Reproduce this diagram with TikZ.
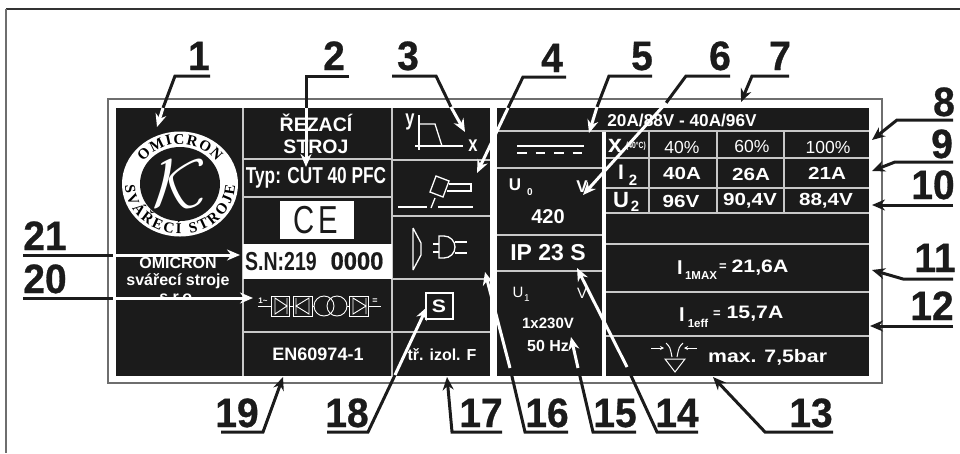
\documentclass[tikz,border=0pt]{standalone}
\usepackage{fontspec}
\usepackage{graphicx}
\setmainfont{Liberation Sans}
\newfontfamily\widefont[FakeStretch=1.18]{Liberation Sans}
\newfontfamily\narrowfont[FakeStretch=0.75]{Liberation Sans}
\newfontfamily\calloutfont[FakeStretch=0.95,FakeBold=0.7]{Liberation Sans}
\newfontfamily\logofont{Liberation Serif}
\usetikzlibrary{arrows.meta,decorations.text}
\definecolor{platedark}{HTML}{1B1B1B}
\definecolor{gridgray}{HTML}{C8C8C8}
\definecolor{framegray}{HTML}{6E6E6E}
\newcommand{\platesize}[1]{\fontsize{#1}{#1}\selectfont}

\begin{document}
\begin{tikzpicture}[x=1pt, y=1pt,
  numlabel/.style={font=\calloutfont\bfseries\platesize{41}, text=platedark, inner sep=0pt, anchor=base},
  leader/.style={draw=platedark, line width=3pt},
  leadertip/.style={leader, -{Stealth[length=13pt,width=11pt]}},
  inleader/.style={draw=white, line width=3pt, -{Stealth[length=13pt,width=11pt]}},
  cellline/.style={draw=gridgray, line width=1.2pt},
  platetext/.style={text=white, inner sep=0pt, font=\bfseries\platesize{#1}},
  widetext/.style={text=white, inner sep=0pt, font=\widefont\bfseries\platesize{#1}},
  symline/.style={draw=white, line width=1.3pt}]
  \useasboundingbox (0,-453) rectangle (960,0);

  % outer frame and plate
  \draw[draw=black!80, line width=1.2pt] (960,-9) -- (6,-9);
  \draw[draw=framegray, line width=1.3pt] (6,-9) -- (6,-453);
  \draw[draw=framegray, line width=1.3pt] (108,-99) rectangle (882,-383);
  \fill[platedark] (116,-108) rectangle (490,-376);
  \fill[platedark] (497,-108) rectangle (869,-131);
  \fill[platedark] (497,-131) rectangle (602,-376);
  \fill[platedark] (606,-131) rectangle (869,-376);

  % cell lines, left block
  \draw[cellline] (243,-108) -- (243,-376);
  \draw[cellline] (392,-108) -- (392,-376);
  \draw[cellline] (243,-159) -- (392,-159);
  \draw[cellline] (243,-197) -- (392,-197);
  \draw[cellline] (243,-332) -- (490,-332);
  \draw[cellline] (392,-160) -- (490,-160);
  \draw[cellline] (392,-216) -- (490,-216);
  \draw[cellline] (392,-279) -- (490,-279);
  \fill[white] (243,-244) rectangle (392,-279);
  \fill[white] (280,-201) rectangle (354,-239);

  % cell lines, middle and right block
  \draw[cellline] (497,-131) -- (869,-131);
  \draw[cellline] (497,-168) -- (602,-168);
  \draw[cellline] (497,-235) -- (602,-235);
  \draw[cellline] (497,-271) -- (602,-271);
  \draw[cellline] (606,-158) -- (869,-158);
  \draw[cellline] (606,-188) -- (869,-188);
  \draw[cellline] (606,-213) -- (869,-213);
  \draw[cellline] (606,-244) -- (869,-244);
  \draw[cellline] (606,-292) -- (869,-292);
  \draw[cellline] (606,-336) -- (869,-336);
  \draw[cellline] (649,-131) -- (649,-213);
  \draw[cellline] (717,-131) -- (717,-213);
  \draw[cellline] (784,-131) -- (784,-213);

  % logo
  \fill[white] (180,-184) circle [x radius=58pt, y radius=52.5pt];
  \fill[platedark] (180,-184) circle [x radius=40pt, y radius=37pt];
  \node[text=white, inner sep=0pt] (logok) at (180,-184) {\resizebox{54pt}{47pt}{$\mathcal{K}$}};
  \path[decorate, decoration={text along path, text align={fit to path},
      text={|\logofont\bfseries\platesize{15}|OMICRON}}]
    (180,-184) ++(146:44pt and 40pt) arc [start angle=146, end angle=34, x radius=44pt, y radius=40pt];
  \path[decorate, decoration={text along path, text align={fit to path},
      text={|\logofont\bfseries\platesize{15}|SVÁŘECÍ STROJE}}]
    (180,-184) ++(182:55pt and 50pt) arc [start angle=182, end angle=358, x radius=55pt, y radius=50pt];

  \node[platetext=16, align=center, font=\bfseries\fontsize{16}{17}\selectfont] (firm) at (178,-280) {OMICRON\\svářecí stroje\\s.r.o.};
  \fill[platedark] (117,-299) rectangle (242,-375);

  % left block texts
  \node[platetext=20, align=center, font=\bfseries\fontsize{19.5}{22}\selectfont] (kind) at (316,-134) {ŘEZACÍ\\STROJ};
  \node[text=white, inner sep=0pt, font=\narrowfont\bfseries\platesize{23}] (typ) at (316,-178) {Typ: CUT 40 PFC};
  \node[text=platedark, inner sep=0pt, font=\narrowfont\platesize{39}] (ce) at (316,-220) {C\kern4pt E};
  \node[text=platedark, inner sep=0pt, font=\narrowfont\bfseries\platesize{26}] (sn) at (281,-262) {S.N:219};
  \node[text=platedark, inner sep=0pt, font=\calloutfont\bfseries\platesize{25}] (snno) at (357,-261) {0000};
  \node[platetext=18] (norm) at (318,-354) {EN60974-1};
  \node[platetext=16] (izol) at (442,-355) {tř. izol. F};
  \node[text=white, inner sep=0pt, font=\narrowfont\bfseries\platesize{22}] (yaxis) at (410,-122) {y};
  \node[text=white, inner sep=0pt, font=\narrowfont\bfseries\platesize{22}] (xaxis) at (473,-146) {x};

  % rectifier symbol
  \node[text=white, inner sep=0pt, font=\bfseries\platesize{8}] (phase) at (263,-301) {1\textasciitilde};
  \node[text=white, inner sep=0pt, font=\bfseries\platesize{9}] (dc) at (375,-301) {=};
  \draw[symline, line width=.9pt] (258,-306) -- (271,-306) (289,-306) -- (293,-306) (312,-306) -- (314,-306)
    (347,-306) -- (349,-306) (368,-306) -- (381,-306);
  \draw[symline, line width=.9pt] (271,-296) rectangle (289,-316);
  \draw[symline, line width=.9pt] (275,-298) -- (275,-314) -- (287,-306) -- cycle (287,-298) -- (287,-314);
  \draw[symline, line width=.9pt] (293,-296) rectangle (312,-316);
  \draw[symline, line width=.9pt] (309,-298) -- (309,-314) -- (296,-306) -- cycle (296,-298) -- (296,-314);
  \draw[symline, line width=.9pt] (324,-306) circle (10pt) (337,-306) circle (10pt);
  \draw[symline, line width=.9pt] (349,-296) rectangle (368,-316);
  \draw[symline, line width=.9pt] (353,-298) -- (353,-314) -- (366,-306) -- cycle (366,-298) -- (366,-314);

  % characteristic, torch, plug
  \draw[symline, line width=1.6pt] (419,-115) -- (419,-150) (415,-146) -- (463,-146);
  \draw[symline] (419,-124) -- (435,-124) -- (442,-146);
  \draw[symline] (398,-207) -- (427,-207) (438,-207) -- (473,-207);
  \draw[symline] (436,-176) -- (449,-181) -- (443,-197) -- (430,-192) -- cycle;
  \draw[symline] (449,-184) -- (471,-184) -- (471,-191) -- (447,-191);
  \draw[symline] (431,-208) -- (435,-198);
  \draw[symline] (413,-228) -- (413,-270) (413,-228) -- (421,-243) -- (421,-255) -- (413,-270);
  \draw[symline] (433,-244) -- (439,-244) (433,-252) -- (439,-252);
  \draw[symline] (439,-236) -- (439,-258) -- (444,-258) arc [start angle=-90, end angle=90, radius=11pt] -- cycle;
  \draw[symline] (455,-242) -- (467,-242) (455,-253) -- (467,-253);
  \draw[draw=white, line width=1.8pt] (426,-293) rectangle (453,-319);
  \node[widetext=18] (sbox) at (439,-306) {S};

  % middle block
  \node[platetext=17.2] (rating) at (682,-120) {20A/88V - 40A/96V};
  \draw[draw=white, line width=2.3pt] (517,-146) -- (584,-146);
  \draw[draw=white, line width=2.3pt, dash pattern=on 9.5pt off 9pt] (517,-153) -- (584,-153);
  \node[platetext=17] (uzero) at (515,-185) {U};
  \node[platetext=10] (uzerosub) at (530,-192) {0};
  \node[platetext=17] (uzerov) at (582,-187) {V};
  \node[platetext=20] (uzeroval) at (548,-217) {420};
  \node[platetext=23] (ip) at (548,-253) {IP 23 S};
  \node[text=white, inner sep=0pt, font=\platesize{15}] (uone) at (518,-292) {U};
  \node[text=white, inner sep=0pt, font=\platesize{10}] (uonesub) at (527,-298) {1};
  \node[text=white, inner sep=0pt, font=\platesize{15}] (uonev) at (582,-293) {V};
  \node[platetext=15] (mains) at (548,-323) {1x230V};
  \node[platetext=16] (freq) at (548,-346) {50 Hz};

  % table
  \node[text=white, inner sep=0pt, font=\bfseries\platesize{25}] (xhead) at (615,-146) {x};
  \node[text=white, inner sep=0pt, font=\narrowfont\bfseries\platesize{9}] (xtemp) at (636,-146) {(40°C)};
  \node[text=white, inner sep=0pt, font=\platesize{17.5}] (xa) at (682,-147) {40\%};
  \node[text=white, inner sep=0pt, font=\platesize{17.5}] (xb) at (752,-146) {60\%};
  \node[text=white, inner sep=0pt, font=\platesize{17.5}] (xc) at (828,-147) {100\%};
  \node[platetext=21] (itwo) at (621,-172) {I};
  \node[platetext=15] (itwosub) at (633,-180) {2};
  \node[widetext=17.5] (ia) at (682,-173) {40A};
  \node[widetext=17.5] (ib) at (751,-174) {26A};
  \node[widetext=17.5] (ic) at (827,-173) {21A};
  \node[platetext=22] (utwo) at (621,-200) {U};
  \node[platetext=15] (utwosub) at (635,-206) {2};
  \node[widetext=17.5] (ua) at (681,-201) {96V};
  \node[widetext=17.5] (ub) at (750,-201) {90,4V};
  \node[widetext=17.5] (uc) at (826,-201) {88,4V};

  % currents and pressure
  \node[platetext=20] (imax) at (680,-268) {I};
  \node[platetext=11.5] (imaxsub) at (701,-276) {1MAX};
  \node[platetext=13] (imaxeq) at (723,-267) {=};
  \node[widetext=18] (imaxval) at (760,-268) {21,6A};
  \node[platetext=20] (ieff) at (682,-315) {I};
  \node[platetext=11.5] (ieffsub) at (698,-323) {1eff};
  \node[platetext=13] (ieffeq) at (717,-314) {=};
  \node[widetext=18] (ieffval) at (755,-314) {15,7A};
  \node[widetext=18, anchor=west] (pressure) at (708,-357) {max. 7,5bar};
  \draw[symline, line width=1pt] (665,-359) -- (685,-359) -- (675,-372) -- cycle;
  \draw[symline, line width=1pt] (666,-343) .. controls (670,-347) .. (672,-357);
  \draw[symline, line width=1pt] (683,-343) .. controls (679,-347) .. (677,-357);
  \draw[symline, line width=1pt, -{Stealth[length=4pt,width=4pt]}] (651,-348) -- (664,-348);
  \draw[symline, line width=1pt, -{Stealth[length=4pt,width=4pt]}] (697,-348) -- (684,-348);

  % callout numbers
  \node[numlabel] (n1) at (199,-70) {1};
  \node[numlabel] (n2) at (334,-70) {2};
  \node[numlabel] (n3) at (408,-70) {3};
  \node[numlabel] (n4) at (552,-72) {4};
  \node[numlabel] (n5) at (642,-70) {5};
  \node[numlabel] (n6) at (720,-70) {6};
  \node[numlabel] (n7) at (780,-70) {7};
  \node[numlabel] (n8) at (944,-116) {8};
  \node[numlabel] (n9) at (942,-158) {9};
  \node[numlabel] (n10) at (933,-199) {10};
  \node[numlabel] (n11) at (935,-272) {11};
  \node[numlabel] (n12) at (932,-320) {12};
  \node[numlabel] (n13) at (811,-427) {13};
  \node[numlabel] (n14) at (677,-427) {14};
  \node[numlabel] (n15) at (615,-427) {15};
  \node[numlabel] (n16) at (547,-427) {16};
  \node[numlabel] (n17) at (481,-427) {17};
  \node[numlabel] (n18) at (347,-427) {18};
  \node[numlabel] (n19) at (237,-427) {19};
  \node[numlabel] (n20) at (45,-293) {20};
  \node[numlabel] (n21) at (45,-250) {21};

  % leaders from above
  \path (210,-76) coordinate (u1) (175,-76) coordinate (e1) (163,-108) coordinate (c1) (157,-127) coordinate (t1);
  \draw[leader] (u1) -- (e1) -- (c1);
  \draw[inleader] (c1) -- (t1);
  \path (349,-76) coordinate (u2) (306,-76) coordinate (e2) (306,-108) coordinate (c2) (306,-167) coordinate (t2);
  \draw[leader] (u2) -- (e2) -- (c2);
  \draw[inleader] (c2) -- (t2);
  \path (392,-76) coordinate (u3) (436,-76) coordinate (e3) (451,-107) coordinate (c3) (465,-132) coordinate (t3);
  \draw[leader] (u3) -- (e3) -- (c3);
  \draw[inleader] (c3) -- (t3);
  \path (566,-77) coordinate (u4) (523,-77) coordinate (e4) (508,-108) coordinate (c4) (477,-173) coordinate (t4);
  \draw[leader] (u4) -- (e4) -- (c4);
  \draw[inleader] (c4) -- (t4);
  \path (652,-76) coordinate (u5) (609,-76) coordinate (e5) (597,-107) coordinate (c5) (589,-133) coordinate (t5);
  \draw[leader] (u5) -- (e5) -- (c5);
  \draw[inleader] (c5) -- (t5);
  \path (730,-76) coordinate (u6) (686,-76) coordinate (e6) (666,-103) coordinate (c6) (583,-195) coordinate (t6);
  \draw[leader] (u6) -- (e6) -- (c6);
  \draw[inleader] (c6) -- (t6);
  \path (789,-76) coordinate (u7) (752,-76) coordinate (e7) (741,-102) coordinate (t7);
  \draw[leadertip] (u7) -- (e7) -- (t7);

  % leaders from the right
  \path (953,-120) coordinate (u8) (897,-120) coordinate (e8) (872,-140) coordinate (t8);
  \draw[leadertip] (u8) -- (e8) -- (t8);
  \path (953,-162) coordinate (u9) (895,-162) coordinate (e9) (872,-171) coordinate (t9);
  \draw[leadertip] (u9) -- (e9) -- (t9);
  \path (953,-205) coordinate (u10) (872,-205) coordinate (t10);
  \draw[leadertip] (u10) -- (t10);
  \path (953,-279) coordinate (u11) (903,-279) coordinate (e11) (872,-270) coordinate (t11);
  \draw[leadertip] (u11) -- (e11) -- (t11);
  \path (953,-326) coordinate (u12) (870,-326) coordinate (t12);
  \draw[leadertip] (u12) -- (t12);

  % leaders from below
  \path (833,-432) coordinate (u13) (765,-432) coordinate (e13) (713,-377) coordinate (t13);
  \draw[leadertip] (u13) -- (e13) -- (t13);
  \path (698,-432) coordinate (u14) (657,-432) coordinate (e14) (627,-367) coordinate (c14) (577,-268) coordinate (t14);
  \draw[leader] (u14) -- (e14) -- (c14);
  \draw[inleader] (c14) -- (t14);
  \path (636,-432) coordinate (u15) (593,-432) coordinate (e15) (578,-368) coordinate (c15) (571,-337) coordinate (t15);
  \draw[leader] (u15) -- (e15) -- (c15);
  \draw[inleader] (c15) -- (t15);
  \path (568,-432) coordinate (u16) (525,-432) coordinate (e16) (510,-368) coordinate (c16) (485,-272) coordinate (t16);
  \draw[leader] (u16) -- (e16) -- (c16);
  \draw[inleader] (c16) -- (t16);
  \path (502,-432) coordinate (u17) (452,-432) coordinate (e17) (447,-377) coordinate (t17);
  \draw[leadertip] (u17) -- (e17) -- (t17);
  \path (327,-432) coordinate (u18) (368,-432) coordinate (e18) (395,-375) coordinate (c18) (427,-307) coordinate (t18);
  \draw[leader] (u18) -- (e18) -- (c18);
  \draw[inleader] (c18) -- (t18);
  \path (221,-432) coordinate (u19) (263,-432) coordinate (e19) (283,-377) coordinate (t19);
  \draw[leadertip] (u19) -- (e19) -- (t19);

  % leaders from the left
  \path (23,-298) coordinate (u20) (113,-298) coordinate (c20) (253,-298) coordinate (t20);
  \draw[leader] (u20) -- (c20);
  \draw[inleader] (c20) -- (t20);
  \path (23,-255) coordinate (u21) (113,-255) coordinate (c21) (240,-255) coordinate (t21);
  \draw[leader] (u21) -- (c21);
  \draw[inleader] (c21) -- (t21);
\end{tikzpicture}
\end{document}
